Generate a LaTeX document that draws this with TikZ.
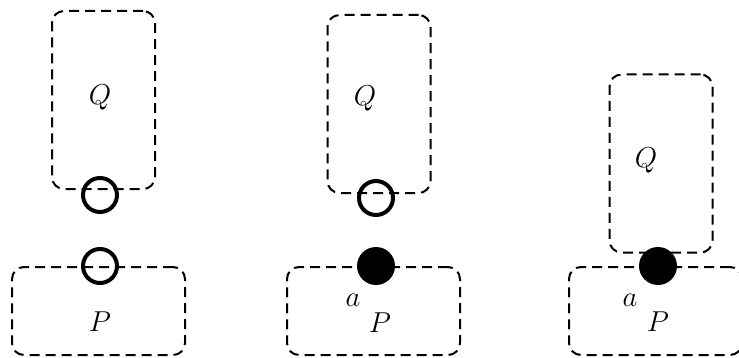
\documentclass[tikz,border=0pt]{standalone}
\usetikzlibrary{positioning}
\begin{document}
\begin{tikzpicture}[x=0.5pt,y=-0.5pt,
  box/.style={draw, dash pattern=on 5pt off 3pt, line width=1pt, rounded corners=6pt, minimum width=51.5pt, minimum height=89pt, inner sep=0pt},
  base/.style={box, minimum width=86.5pt, minimum height=44pt},
  port/.style={circle, draw, line width=2pt, minimum size=17pt, inner sep=0pt},
  joined/.style={circle, fill=black, minimum size=19pt, inner sep=0pt},
  lbl/.style={font=\Large, inner sep=0pt}]
\useasboundingbox (0,0) rectangle (739,358);
% apart
\node[box] (q1) at (103.5,100) {};
\node[base] (p1) at (98.5,311) {};
\node[lbl] (q1name) at (100,97) {$Q$};
\node[lbl] (p1name) at (100,322) {$P$};
\node[port] (q1port) at (100,195) {};
\node[port] (p1port) at (100,266) {};
% P fixed at a
\node[box] (q2) at (379,104) {};
\node[base] (p2) at (373.5,311) {};
\node[lbl] (q2name) at (365,98) {$Q$};
\node[lbl] (p2name) at (380,323) {$P$};
\node[port] (q2port) at (376,198) {};
\node[joined] (p2port) at (376,266) {};
\node[lbl] (a2) at (353,300) {$a$};
% joined
\node[box] (q3) at (661,163.5) {};
\node[base] (p3) at (655.5,311) {};
\node[lbl] (q3name) at (646,160) {$Q$};
\node[lbl] (p3name) at (658,322) {$P$};
\node[joined] (port3) at (658,266) {};
\node[lbl] (a3) at (630,300) {$a$};
\end{tikzpicture}
\end{document}
